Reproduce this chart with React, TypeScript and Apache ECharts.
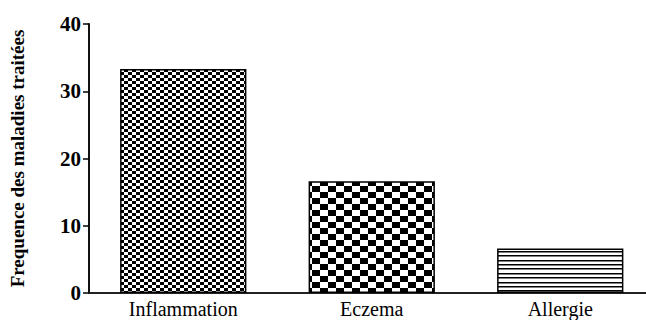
import React, { useEffect, useRef } from "react";
import * as echarts from "echarts";

const categories = ["Inflammation", "Eczema", "Allergie"];
const values = [33.3, 16.6, 6.6];
const yTicks = [0, 10, 20, 30, 40];
const yTitle = "Frequence des maladies traitées";

const SERIF = "'Liberation Serif', 'Times New Roman', Times, serif";

function checker(cw: number, ch: number): HTMLCanvasElement {
  const c = document.createElement("canvas");
  c.width = cw * 2;
  c.height = ch * 2;
  const ctx = c.getContext("2d")!;
  ctx.fillStyle = "#fff";
  ctx.fillRect(0, 0, c.width, c.height);
  ctx.fillStyle = "#000";
  ctx.fillRect(0, 0, cw, ch);
  ctx.fillRect(cw, ch, cw, ch);
  return c;
}

function hlines(): HTMLCanvasElement {
  const c = document.createElement("canvas");
  c.width = 4;
  c.height = 22;
  const ctx = c.getContext("2d")!;
  ctx.fillStyle = "#fff";
  ctx.fillRect(0, 0, c.width, c.height);
  ctx.fillStyle = "#000";
  for (let i = 0; i < 5; i++) {
    ctx.fillRect(0, Math.round(i * 4.4), 4, 1.5);
  }
  return c;
}

export default function App() {
  const ref = useRef<HTMLDivElement>(null);
  useEffect(() => {
    if (!ref.current) return;
    const chart = echarts.init(ref.current, undefined, { renderer: "svg" });
    const patterns = [checker(4, 3), checker(8, 6), hlines()];
    chart.setOption({
      animation: false,
      textStyle: { fontFamily: SERIF },
      grid: { left: 89, right: 5.5, top: 24, bottom: 27, containLabel: false },
      xAxis: {
        type: "category",
        data: categories,
        axisLine: { lineStyle: { color: "#222", width: 2 } },
        axisTick: { alignWithLabel: true, length: 5, lineStyle: { color: "#000", width: 1.5 } },
        axisLabel: {
          color: "#000",
          fontFamily: SERIF,
          fontSize: 20,
          margin: 6,
        },
      },
      yAxis: {
        type: "value",
        min: 0,
        max: 40,
        interval: 10,
        name: yTitle,
        nameLocation: "middle",
        nameGap: 62,
        nameTextStyle: {
          color: "#000",
          fontFamily: SERIF,
          fontWeight: "bold",
          fontSize: 19,
        },
        splitLine: { show: false },
        axisLine: { show: true, lineStyle: { color: "#111", width: 2 } },
        axisTick: { show: true, length: 6, lineStyle: { color: "#000", width: 1.5 } },
        axisLabel: {
          color: "#000",
          fontFamily: SERIF,
          fontWeight: "bold",
          fontSize: 21,
          margin: 8,
          formatter: (v: number) => (yTicks.includes(v) ? String(v) : ""),
        },
      },
      series: [
        {
          type: "bar",
          barCategoryGap: "33%",
          data: values.map((v, i) => ({
            value: v,
            itemStyle: {
              color: { image: patterns[i], repeat: "repeat" },
              borderColor: "#000",
              borderWidth: 1.5,
            },
          })),
        },
      ],
    });
    return () => chart.dispose();
  }, []);
  return (
    <div style={{ position: "absolute", left: 0, top: 0, width: 646, height: 320, overflow: "hidden" }}>
      <div ref={ref} style={{ width: 660, height: 320 }} />
    </div>
  );
}
